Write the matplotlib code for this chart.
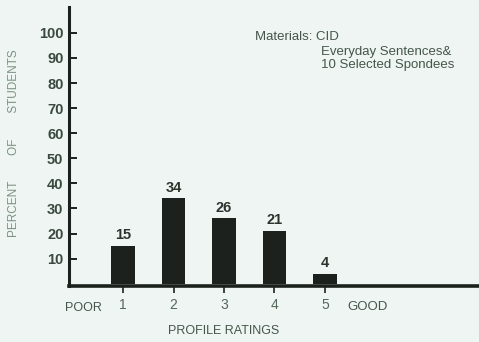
import numpy as np
import matplotlib
matplotlib.use('Agg')
import matplotlib.pyplot as plt

# data
ratings = [1, 2, 3, 4, 5]
percents = [15, 34, 26, 21, 4]
yticks = [10, 20, 30, 40, 50, 60, 70, 80, 90, 100]

bg = '#eef5f2'
dark = '#1c211d'
txt = '#45564b'
light = '#7d9184'

plt.rcParams['font.family'] = ['Liberation Sans', 'DejaVu Sans']

fig = plt.figure(figsize=(4.79, 3.42), dpi=100)
fig.patch.set_facecolor(bg)
ax = fig.add_axes([0.144, 0.164, 0.856, 0.816])
ax.set_facecolor(bg)

ax.bar(ratings, percents, width=0.47, color=dark, zorder=3)
for x, v in zip(ratings, percents):
	ax.text(x, v + 1.5, str(v), ha='center', va='bottom', fontsize=10.5,
			fontweight='bold', color='#2a332c')

ax.set_xlim(-0.07, 8.05)
ax.set_ylim(-0.9, 110.4)

for s in ['top', 'right']:
	ax.spines[s].set_visible(False)
ax.spines['left'].set_color(dark)
ax.spines['left'].set_linewidth(2.2)
ax.spines['bottom'].set_color(dark)
ax.spines['bottom'].set_linewidth(2.6)

ax.set_yticks(yticks)
ax.set_yticklabels([str(t) for t in yticks], fontsize=10.5, fontweight='bold', color='#3a4a40')
ax.tick_params(axis='y', direction='in', length=6, width=1.4, color=dark, pad=4)

ax.set_xticks(ratings)
ax.set_xticklabels([str(r) for r in ratings], fontsize=10, color='#55665a')
ax.tick_params(axis='x', direction='out', length=5, width=1.2, color=dark, pad=4)

fig.text(65 / 479, 1 - 308 / 342, 'POOR', ha='left', va='center', fontsize=9, color=txt)
fig.text(347 / 479, 1 - 307 / 342, 'GOOD', ha='left', va='center', fontsize=9.5, color=txt)
fig.text(224 / 479, 1 - 331 / 342, 'PROFILE RATINGS', ha='center', va='center', fontsize=9, color=txt)

fig.text(14 / 479, 1 - 143 / 342, 'PERCENT        OF        STUDENTS', rotation=90,
		 ha='center', va='center', fontsize=8.5, color=light)

fig.text(255 / 479, 1 - 37 / 342, 'Materials: CID', ha='left', va='center', fontsize=9.5, color=txt)
fig.text(321 / 479, 1 - 52 / 342, 'Everyday Sentences&', ha='left', va='center', fontsize=9.5, color=txt)
fig.text(321 / 479, 1 - 65 / 342, '10 Selected Spondees', ha='left', va='center', fontsize=9.5, color=txt)

fig.savefig('out.png', dpi=100, facecolor=bg)
